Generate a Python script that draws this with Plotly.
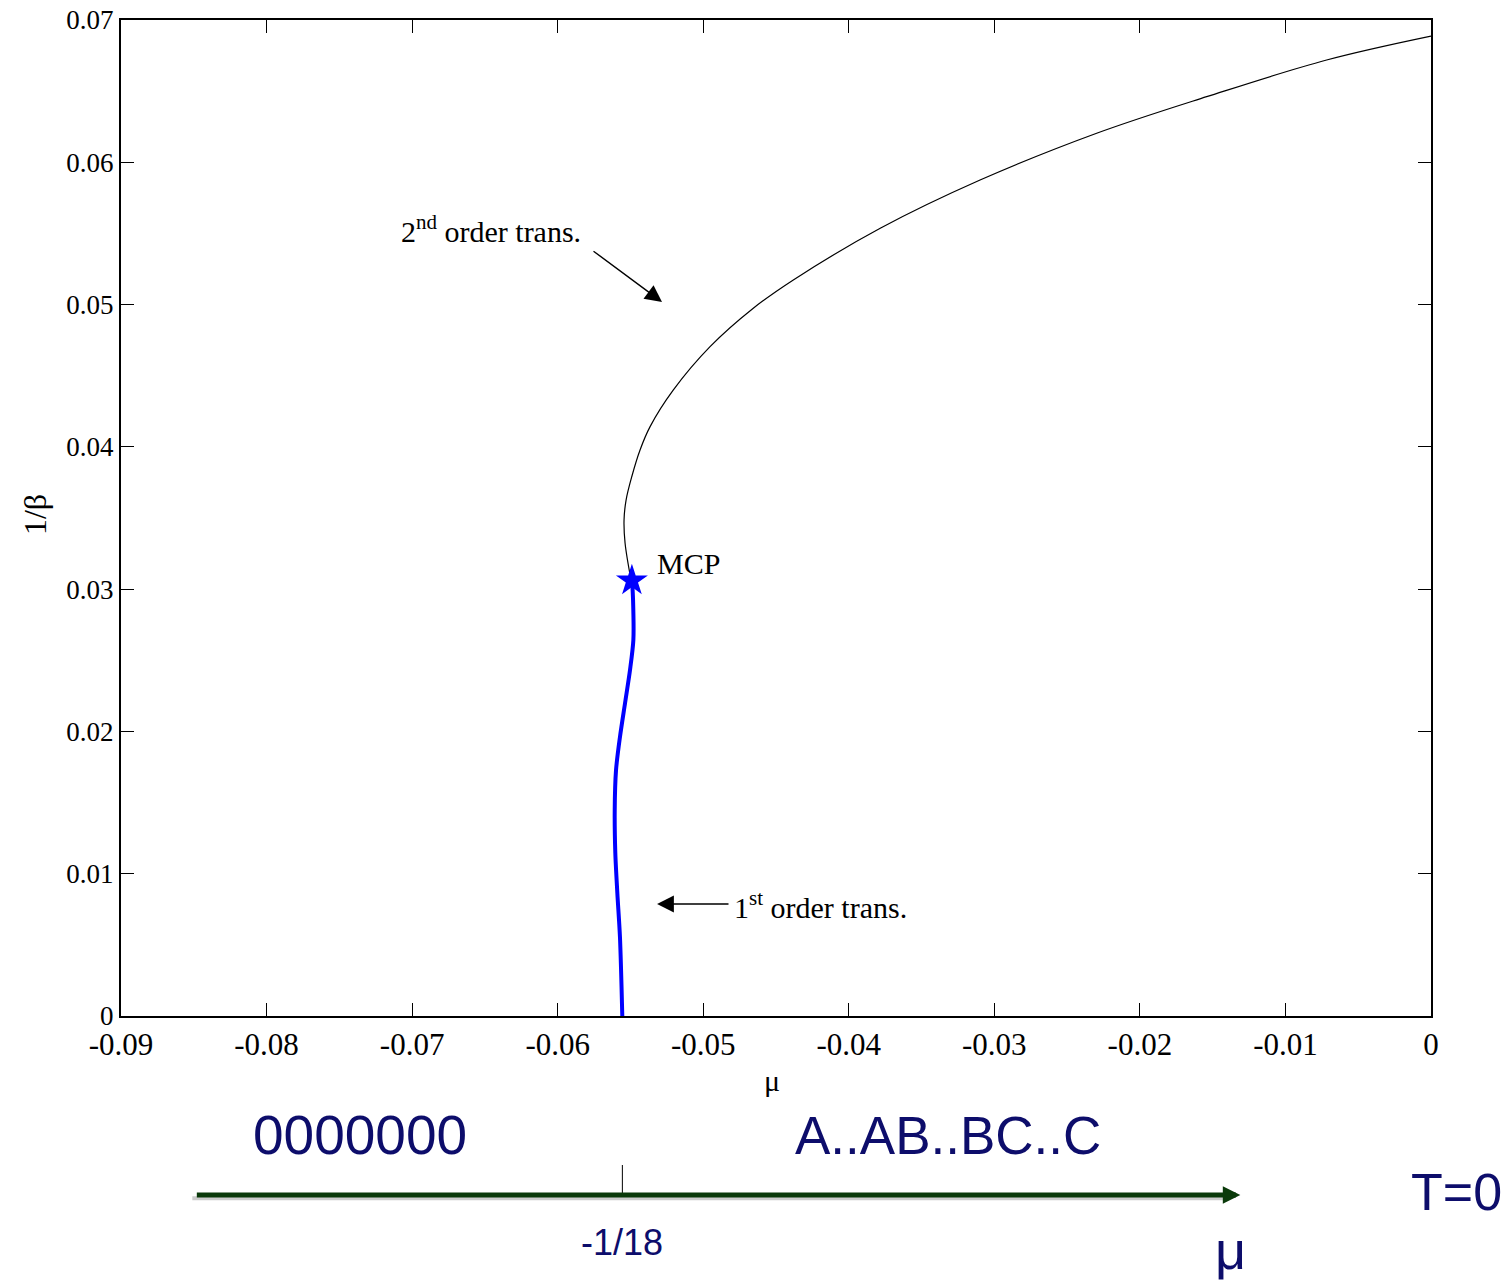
import plotly.graph_objects as go

# 2nd order transition line (black)
mu_2nd = [-0.05496, -0.05537, -0.05544, -0.05530, -0.05491, -0.05434, -0.05365,
          -0.05205, -0.04953, -0.04656, -0.04381, -0.03784, -0.03098, -0.02297,
          -0.01541, -0.00717, 0.0]
T_2nd = [0.03064, 0.03324, 0.03486, 0.03626, 0.03790, 0.03978, 0.04142,
         0.04400, 0.04704, 0.04974, 0.05173, 0.05536, 0.05875, 0.06204,
         0.06461, 0.06719, 0.06887]

# 1st order transition line (blue)
mu_1st = [-0.05556, -0.05572, -0.05590, -0.05604, -0.05608, -0.05599, -0.05572,
          -0.05537, -0.05503, -0.05480, -0.05482, -0.05489]
T_1st = [0.0, 0.00555, 0.00864, 0.01146, 0.01448, 0.01729, 0.01961,
         0.02200, 0.02432, 0.02642, 0.02924, 0.03064]

# multicritical point
mcp_mu = [-0.0549]
mcp_T = [0.0306]

x_ticks = [-0.09, -0.08, -0.07, -0.06, -0.05, -0.04, -0.03, -0.02, -0.01, 0]
x_ticklabels = ["-0.09", "-0.08", "-0.07", "-0.06", "-0.05", "-0.04", "-0.03", "-0.02", "-0.01", "0"]
y_ticks = [0, 0.01, 0.02, 0.03, 0.04, 0.05, 0.06, 0.07]
y_ticklabels = ["0", "0.01", "0.02", "0.03", "0.04", "0.05", "0.06", "0.07"]

mu_crit = -1/18

SERIF = "Liberation Serif"
SANS = "Liberation Sans"
NAVY = "#0d0d6b"
GREEN = "#0a3a0a"

fig = go.Figure()
fig.add_trace(go.Scatter(x=mu_2nd, y=T_2nd, mode="lines",
                         line=dict(color="black", width=1.2, shape="spline", smoothing=1.0),
                         showlegend=False))
fig.add_trace(go.Scatter(x=mu_1st, y=T_1st, mode="lines",
                         line=dict(color="#0000ff", width=4, shape="spline", smoothing=0.8),
                         showlegend=False))
fig.add_trace(go.Scatter(x=mcp_mu, y=mcp_T, mode="markers",
                         marker=dict(symbol="star", size=24, color="#0000ff", line=dict(width=0)),
                         showlegend=False))

axis_common = dict(showgrid=False, zeroline=False, showline=True, linecolor="black", linewidth=2,
                   ticks="inside", ticklen=13, tickwidth=1, tickcolor="black", mirror="allticks",
                   ticklabeloverflow="allow", automargin=False)

fig.update_xaxes(range=[-0.09, 0], tickvals=x_ticks, ticktext=x_ticklabels,
                 tickfont=dict(family=SERIF, size=31, color="black"), **axis_common)
fig.update_yaxes(range=[0, 0.07], tickvals=y_ticks, ticktext=y_ticklabels,
                 tickfont=dict(family=SERIF, size=27, color="black"), **axis_common)

def txt(x, y, text, size, family=SERIF, color="black", xref="x", yref="y", xanchor="center", **kw):
    return dict(x=x, y=y, xref=xref, yref=yref, text=text, showarrow=False,
                xanchor=xanchor, yanchor="middle", font=dict(family=family, size=size, color=color), **kw)

annotations = [
    txt(-0.0533, 0.0318, "MCP", 30, xanchor="left"),
    txt(-0.07089, 0.0553, "2<sup>nd</sup> order trans.", 30, xanchor="left"),
    dict(x=-0.05283, y=0.05018, xref="x", yref="y", ax=-0.05764, ay=0.05383, axref="x", ayref="y",
         text="", showarrow=True, arrowhead=2, arrowsize=2.4, arrowwidth=1.4, arrowcolor="black"),
    txt(-0.0480, 0.0078, "1<sup>st</sup> order trans.", 30, xanchor="left"),
    dict(x=-0.05317, y=0.00787, xref="x", yref="y", ax=-0.04816, ay=0.00787, axref="x", ayref="y",
         text="", showarrow=True, arrowhead=2, arrowsize=2.4, arrowwidth=1.4, arrowcolor="black"),
    # axis titles
    txt(0.497, -0.0643, "μ", 30, xref="paper", yref="paper"),
    txt(-0.0656, 0.503, "1/β", 32, xref="paper", yref="paper", textangle=-90),
    # T=0 schematic
    txt(-0.07358, -0.1195, "0000000", 55, family=SANS, color=NAVY, yref="paper"),
    txt(-0.03318, -0.1195, "A..AB..BC..C", 53, family=SANS, color=NAVY, yref="paper"),
    txt(1.0198, -0.1767, "T=0", 52, family=SANS, color=NAVY, xref="paper", yref="paper"),
    txt(mu_crit, -0.2279, "-1/18", 36, family=SANS, color=NAVY, yref="paper"),
    txt(-0.0138, -0.235, "μ", 54, family=SANS, color=NAVY, yref="paper"),
    dict(x=-0.0131, y=-0.1797, xref="x", yref="paper", ax=-1045, ay=0, text="", showarrow=True,
         arrowhead=2, arrowsize=0.7, arrowwidth=5, arrowcolor=GREEN),
]

shapes = [
    dict(type="line", xref="x", yref="paper", x0=-0.0851, x1=-0.0140, y0=-0.1830, y1=-0.1830,
         line=dict(color="#cccccc", width=4), layer="below"),
    dict(type="line", xref="x", yref="paper", x0=mu_crit, x1=mu_crit, y0=-0.1496, y1=-0.1797,
         line=dict(color="black", width=1)),
]

fig.update_layout(
    width=1504, height=1272,
    margin=dict(l=113, r=81, t=12, b=264, autoexpand=False),
    paper_bgcolor="white", plot_bgcolor="white",
    annotations=annotations, shapes=shapes,
    showlegend=False,
)

fig.write_html("out.html")
